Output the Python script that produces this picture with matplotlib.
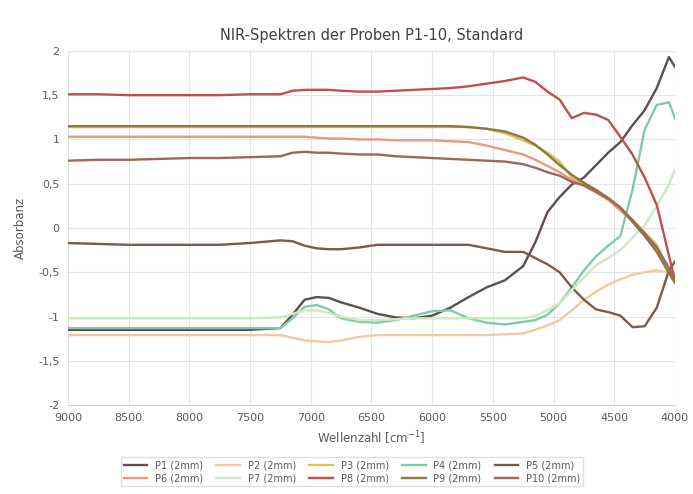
import matplotlib.pyplot as plt
from matplotlib.ticker import FuncFormatter

# Wellenzahlen (cm-1), absteigend
wn = [9000, 8750, 8500, 8250, 8000, 7750, 7500, 7250, 7150, 7050, 6950, 6850,
      6750, 6600, 6450, 6300, 6150, 6000, 5850, 5700, 5550, 5400, 5250, 5150,
      5050, 4950, 4850, 4750, 4650, 4550, 4450, 4350, 4250, 4150, 4050, 4000]

p1 = [-1.15, -1.15, -1.15, -1.15, -1.15, -1.15, -1.15, -1.13, -0.98, -0.81, -0.78, -0.79,
      -0.84, -0.90, -0.97, -1.01, -1.02, -0.99, -0.90, -0.78, -0.67, -0.59, -0.43, -0.16,
      0.18, 0.35, 0.49, 0.57, 0.71, 0.85, 0.97, 1.16, 1.33, 1.58, 1.93, 1.82]
p2 = [-1.21, -1.21, -1.21, -1.21, -1.21, -1.21, -1.21, -1.21, -1.24, -1.27, -1.28, -1.29,
      -1.27, -1.23, -1.21, -1.21, -1.21, -1.21, -1.21, -1.21, -1.21, -1.20, -1.19, -1.15,
      -1.10, -1.04, -0.93, -0.81, -0.72, -0.64, -0.58, -0.53, -0.50, -0.48, -0.50, -0.53]
p3 = [1.14, 1.14, 1.14, 1.14, 1.14, 1.14, 1.14, 1.14, 1.14, 1.14, 1.14, 1.14,
      1.14, 1.14, 1.14, 1.14, 1.14, 1.14, 1.14, 1.14, 1.12, 1.07, 0.99, 0.93,
      0.85, 0.75, 0.57, 0.48, 0.41, 0.32, 0.20, 0.09, -0.05, -0.19, -0.48, -0.61]
p4 = [-1.13, -1.13, -1.13, -1.13, -1.13, -1.13, -1.13, -1.13, -1.02, -0.89, -0.87, -0.92,
      -1.02, -1.06, -1.07, -1.04, -0.99, -0.94, -0.93, -1.02, -1.07, -1.09, -1.06, -1.04,
      -0.98, -0.85, -0.67, -0.48, -0.32, -0.20, -0.09, 0.43, 1.11, 1.39, 1.42, 1.24]
p5 = [-0.17, -0.18, -0.19, -0.19, -0.19, -0.19, -0.17, -0.14, -0.15, -0.20, -0.23, -0.24,
      -0.24, -0.22, -0.19, -0.19, -0.19, -0.19, -0.19, -0.19, -0.23, -0.27, -0.27, -0.34,
      -0.41, -0.50, -0.67, -0.81, -0.92, -0.95, -0.99, -1.12, -1.11, -0.90, -0.48, -0.38]
p6 = [1.03, 1.03, 1.03, 1.03, 1.03, 1.03, 1.03, 1.03, 1.03, 1.03, 1.02, 1.01,
      1.01, 1.00, 1.00, 0.99, 0.99, 0.99, 0.98, 0.97, 0.93, 0.88, 0.83, 0.77,
      0.70, 0.63, 0.54, 0.48, 0.40, 0.32, 0.20, 0.07, -0.07, -0.23, -0.48, -0.59]
p7 = [-1.02, -1.02, -1.02, -1.02, -1.02, -1.02, -1.02, -1.01, -0.97, -0.93, -0.93, -0.96,
      -1.00, -1.04, -1.04, -1.03, -1.02, -1.02, -1.02, -1.02, -1.02, -1.02, -1.02, -0.99,
      -0.93, -0.85, -0.70, -0.56, -0.42, -0.34, -0.25, -0.11, 0.03, 0.25, 0.49, 0.66]
p8 = [1.51, 1.51, 1.50, 1.50, 1.50, 1.50, 1.51, 1.51, 1.55, 1.56, 1.56, 1.56,
      1.55, 1.54, 1.54, 1.55, 1.56, 1.57, 1.58, 1.60, 1.63, 1.66, 1.70, 1.65,
      1.54, 1.45, 1.24, 1.30, 1.28, 1.22, 1.03, 0.83, 0.57, 0.26, -0.31, -0.59]
p9 = [1.15, 1.15, 1.15, 1.15, 1.15, 1.15, 1.15, 1.15, 1.15, 1.15, 1.15, 1.15,
      1.15, 1.15, 1.15, 1.15, 1.15, 1.15, 1.15, 1.14, 1.12, 1.09, 1.02, 0.94,
      0.83, 0.71, 0.60, 0.51, 0.43, 0.34, 0.23, 0.07, -0.09, -0.27, -0.51, -0.62]
p10 = [0.76, 0.77, 0.77, 0.78, 0.79, 0.79, 0.80, 0.81, 0.85, 0.86, 0.85, 0.85,
       0.84, 0.83, 0.83, 0.81, 0.80, 0.79, 0.78, 0.77, 0.76, 0.75, 0.72, 0.68,
       0.63, 0.59, 0.52, 0.48, 0.41, 0.33, 0.23, 0.09, -0.06, -0.22, -0.45, -0.59]

labels = ['P1 (2mm)', 'P2 (2mm)', 'P3 (2mm)', 'P4 (2mm)', 'P5 (2mm)',
          'P6 (2mm)', 'P7 (2mm)', 'P8 (2mm)', 'P9 (2mm)', 'P10 (2mm)']
series = [p1, p2, p3, p4, p5, p6, p7, p8, p9, p10]
colors = ['#5e4e4e', '#f2c9a1', '#d9c25a', '#7fcba8', '#7b5a50',
          '#e79a7c', '#cfe8c4', '#c0504d', '#8b7a3a', '#a0665a']

fig = plt.figure(figsize=(6.93, 4.94), dpi=100)
ax = fig.add_axes([0.098, 0.18, 0.876, 0.717])

lines = []
for y, lab, c in zip(series, labels, colors):
    ln, = ax.plot(wn, y, color=c, lw=1.7, label=lab)
    lines.append(ln)

ax.set_xlim(9000, 4000)
ax.set_ylim(-2, 2)
ax.set_xticks(range(9000, 3999, -500))
ax.set_yticks([2, 1.5, 1, 0.5, 0, -0.5, -1, -1.5, -2])
ax.yaxis.set_major_formatter(FuncFormatter(lambda v, p: ('%g' % v).replace('.', ',')))
ax.grid(True, color='#e4e4e4', lw=0.8)
ax.set_axisbelow(True)
for s in ['top', 'right', 'left']:
    ax.spines[s].set_visible(False)
ax.spines['bottom'].set_color('#d0d0d0')
ax.tick_params(length=0, labelsize=8, colors='#595959', pad=6)

ax.set_title('NIR-Spektren der Proben P1-10, Standard', fontsize=10.5, color='#404040', pad=8)
ax.set_xlabel('Wellenzahl [cm$^{-1}$]', fontsize=8.5, color='#595959', labelpad=4)
ax.set_ylabel('Absorbanz', fontsize=8.5, color='#595959', labelpad=8)

# Legende zeilenweise: P1..P5 oben, P6..P10 unten
order = [0, 5, 1, 6, 2, 7, 3, 8, 4, 9]
fig.legend([lines[i] for i in order], [labels[i] for i in order],
           loc='center', bbox_to_anchor=(0.508, 0.045), ncol=5, fontsize=7,
           frameon=True, edgecolor='#d9d9d9', fancybox=False, handlelength=2.4,
           columnspacing=1.4, labelcolor='#595959', borderpad=0.3, labelspacing=0.3)

fig.savefig('out.png', dpi=100)
